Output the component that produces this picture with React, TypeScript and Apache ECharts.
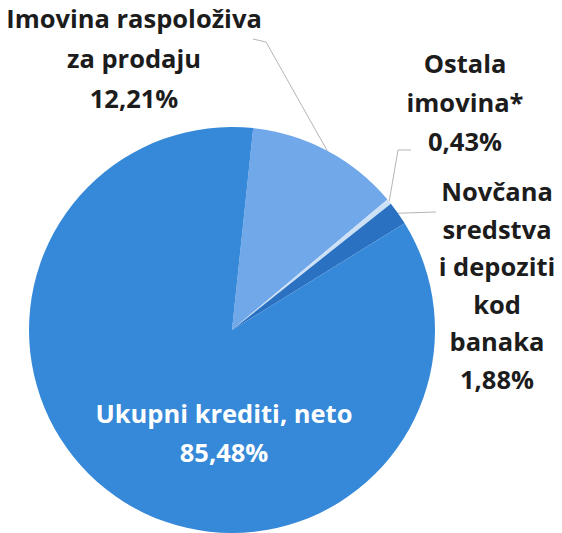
import React, { useEffect, useRef } from "react";
import * as echarts from "echarts";

const names = [
  "Imovina raspoloživa\nza prodaju",
  "Ostala\nimovina*",
  "Novčana\nsredstva\ni depoziti\nkod\nbanaka",
  "Ukupni krediti, neto",
];
const values = [12.21, 0.43, 1.88, 85.48];
const colors = ["#71a8ea", "#cde1f6", "#2a71c2", "#3689d8"];

const labelPos = [
  { x: 134, y: 58, lh: 40, color: "#1c1c1c" },
  { x: 465, y: 102, lh: 39, color: "#1c1c1c" },
  { x: 497, y: 285, lh: 37.5, color: "#1c1c1c" },
  { x: 224, y: 432, lh: 39, color: "#ffffff" },
];

export default function App() {
  const ref = useRef<HTMLDivElement>(null);
  useEffect(() => {
    if (!ref.current) return;
    const chart = echarts.init(ref.current, null, { renderer: "svg" });
    const fmt = (v: number) => v.toFixed(2).replace(".", ",") + "%";
    chart.setOption({
      animation: false,
      backgroundColor: "#ffffff",
      series: [
        {
          type: "pie",
          center: [232, 330],
          radius: [0, 203],
          startAngle: 84,
          clockwise: true,
          avoidLabelOverlap: false,
          data: names.map((n, i) => ({
            name: n,
            value: values[i],
            itemStyle: { color: colors[i] },
            label: {
              show: true,
              position: i === 3 ? "inside" : "outside",
              formatter: n + "\n" + fmt(values[i]),
              color: labelPos[i].color,
              fontFamily: "Open Sans",
              fontWeight: "bold",
              fontSize: 25.5,
              lineHeight: labelPos[i].lh,
              align: "center",
            },
            labelLine: {
              show: i !== 3,
              lineStyle: { color: "#b5b5b5", width: 1 },
            },
          })),
          labelLayout: (p: any) => {
            const lp = labelPos[p.dataIndex];
            const res: any = {
              x: lp.x,
              y: lp.y,
              align: "center",
              verticalAlign: "middle",
            };
            const pts = p.labelLinePoints;
            if (pts && pts.length && p.dataIndex !== 3) {
              const s = pts[0];
              if (p.dataIndex === 0) res.labelLinePoints = [s, [266, 42], [253, 39]];
              if (p.dataIndex === 1) res.labelLinePoints = [s, [398, 150], [411, 150]];
              if (p.dataIndex === 2) res.labelLinePoints = [s, [436, 212]];
            }
            return res;
          },
        },
      ],
    });
    return () => chart.dispose();
  }, []);
  return (
    <div
      ref={ref}
      style={{ position: "fixed", left: 0, top: 0, width: 562, height: 533, background: "#fff" }}
    />
  );
}
